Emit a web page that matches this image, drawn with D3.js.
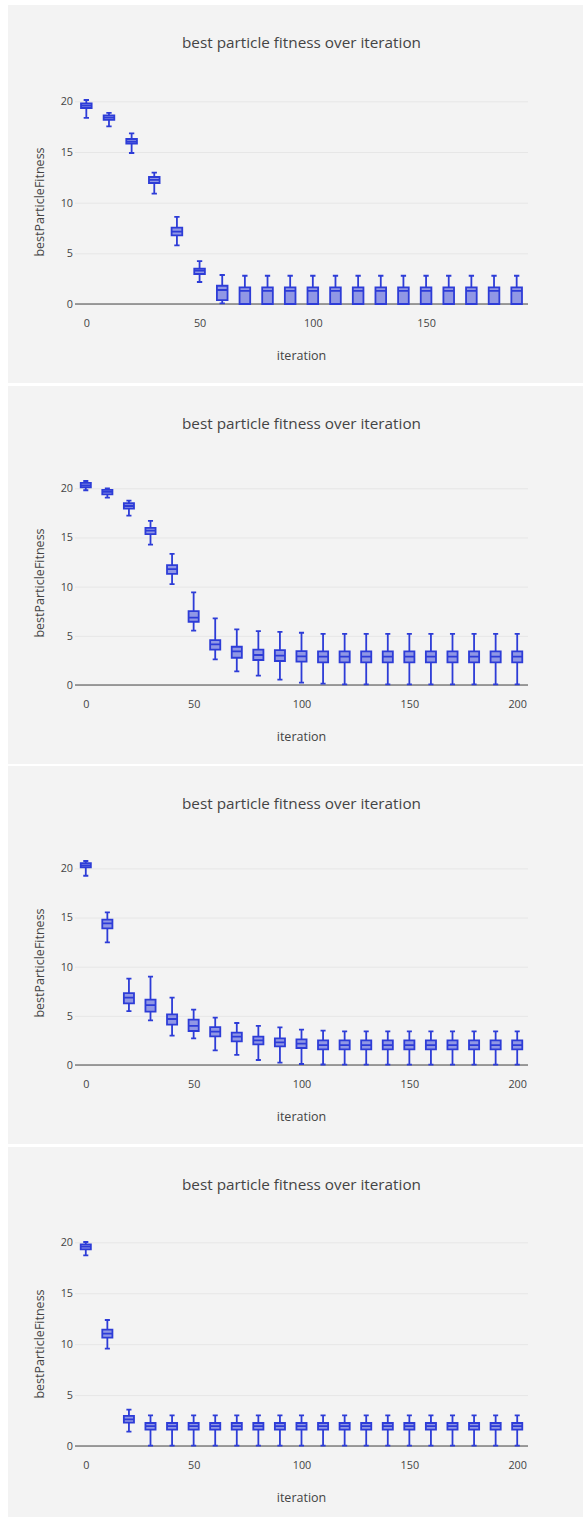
<!DOCTYPE html>
<html>
<head>
<meta charset="utf-8">
<script src="https://cdn.jsdelivr.net/npm/d3@7"></script>
<style>
  html, body { margin: 0; padding: 0; background: #ffffff; }
  svg { display: block; }
  text { font-family: "Open Sans", verdana, arial, sans-serif; fill: #444; }
</style>
</head>
<body>
<svg id="chart" width="583" height="1517"></svg>
<script>
// ---- labels ----
const chartTitle = "best particle fitness over iteration";
const xAxisTitle = "iteration";
const yAxisTitle = "bestParticleFitness";
const xTickValues = [0, 50, 100, 150, 200];
const yTickValues = [0, 5, 10, 15, 20];

// ---- run 1 (iterations 0..190) ----
const run1Iter = [0, 10, 20, 30, 40, 50, 60, 70, 80, 90, 100, 110, 120, 130, 140, 150, 160, 170, 180, 190];
const run1Hi  = [20.13, 18.85, 16.84, 12.96, 8.59, 4.24, 2.86, 2.79, 2.79, 2.79, 2.79, 2.79, 2.79, 2.79, 2.79, 2.79, 2.79, 2.79, 2.79, 2.79];
const run1Q3  = [19.80, 18.62, 16.28, 12.53, 7.53, 3.49, 1.80, 1.64, 1.64, 1.64, 1.64, 1.64, 1.64, 1.64, 1.64, 1.64, 1.64, 1.64, 1.64, 1.64];
const run1Med = [19.57, 18.39, 16.02, 12.24, 7.14, 3.29, 1.38, 1.30, 1.30, 1.30, 1.30, 1.30, 1.30, 1.30, 1.30, 1.30, 1.30, 1.30, 1.30, 1.30];
const run1Q1  = [19.34, 18.16, 15.82, 11.94, 6.78, 2.96, 0.39, 0, 0, 0, 0, 0, 0, 0, 0, 0, 0, 0, 0, 0];
const run1Lo  = [18.36, 17.53, 14.90, 10.89, 5.79, 2.17, 0.07, 0, 0, 0, 0, 0, 0, 0, 0, 0, 0, 0, 0, 0];

// ---- run 2 (iterations 0..200) ----
const run2Iter = [0, 10, 20, 30, 40, 50, 60, 70, 80, 90, 100, 110, 120, 130, 140, 150, 160, 170, 180, 190, 200];
const run2Hi  = [20.74, 20.00, 18.75, 16.68, 13.33, 9.41, 6.77, 5.65, 5.48, 5.41, 5.31, 5.19, 5.19, 5.19, 5.19, 5.19, 5.19, 5.19, 5.19, 5.19, 5.19];
const run2Q3  = [20.54, 19.83, 18.48, 15.97, 12.18, 7.51, 4.57, 3.89, 3.59, 3.55, 3.45, 3.42, 3.42, 3.42, 3.42, 3.42, 3.42, 3.42, 3.42, 3.42, 3.42];
const run2Med = [20.30, 19.63, 18.20, 15.70, 11.78, 6.84, 4.13, 3.42, 3.05, 2.98, 2.91, 2.88, 2.88, 2.88, 2.88, 2.88, 2.88, 2.88, 2.88, 2.88, 2.88];
const run2Q1  = [20.10, 19.39, 17.94, 15.33, 11.30, 6.43, 3.59, 2.77, 2.54, 2.44, 2.37, 2.31, 2.31, 2.31, 2.31, 2.31, 2.31, 2.31, 2.31, 2.31, 2.31];
const run2Lo  = [19.80, 19.05, 17.22, 14.28, 10.25, 5.52, 2.61, 1.39, 0.95, 0.54, 0.24, 0.14, 0.07, 0.07, 0.07, 0.07, 0.07, 0.07, 0.07, 0.07, 0.07];

// ---- run 3 (iterations 0..200) ----
const run3Iter = [0, 10, 20, 30, 40, 50, 60, 70, 80, 90, 100, 110, 120, 130, 140, 150, 160, 170, 180, 190, 200];
const run3Hi  = [20.75, 15.53, 8.78, 8.98, 6.85, 5.63, 4.81, 4.27, 3.97, 3.83, 3.59, 3.49, 3.42, 3.42, 3.42, 3.42, 3.42, 3.42, 3.42, 3.42, 3.42];
const run3Q3  = [20.54, 14.78, 7.32, 6.64, 5.15, 4.61, 3.86, 3.29, 2.88, 2.71, 2.61, 2.51, 2.51, 2.51, 2.51, 2.51, 2.51, 2.51, 2.51, 2.51, 2.51];
const run3Med = [20.30, 14.41, 6.85, 6.10, 4.68, 3.97, 3.39, 2.88, 2.51, 2.31, 2.17, 2.03, 2.03, 2.03, 2.03, 2.03, 2.03, 2.03, 2.03, 2.03, 2.03];
const run3Q1  = [20.10, 13.90, 6.27, 5.42, 4.10, 3.46, 2.92, 2.41, 2.10, 1.90, 1.73, 1.59, 1.59, 1.59, 1.59, 1.59, 1.59, 1.59, 1.59, 1.59, 1.59];
const run3Lo  = [19.25, 12.47, 5.49, 4.54, 2.98, 2.71, 1.49, 1.02, 0.51, 0.24, 0.10, 0.05, 0.03, 0.03, 0.03, 0.03, 0.03, 0.03, 0.03, 0.03, 0.03];

// ---- run 4 (iterations 0..200) ----
const run4Iter = [0, 10, 20, 30, 40, 50, 60, 70, 80, 90, 100, 110, 120, 130, 140, 150, 160, 170, 180, 190, 200];
const run4Hi  = [20.03, 12.37, 3.57, 3.01, 3.01, 3.01, 3.01, 3.01, 3.01, 3.01, 3.01, 3.01, 3.01, 3.01, 3.01, 3.01, 3.01, 3.01, 3.01, 3.01, 3.01];
const run4Q3  = [19.80, 11.42, 2.95, 2.26, 2.26, 2.26, 2.26, 2.26, 2.26, 2.26, 2.26, 2.26, 2.26, 2.26, 2.26, 2.26, 2.26, 2.26, 2.26, 2.26, 2.26];
const run4Med = [19.57, 11.03, 2.62, 1.96, 1.96, 1.96, 1.96, 1.96, 1.96, 1.96, 1.96, 1.96, 1.96, 1.96, 1.96, 1.96, 1.96, 1.96, 1.96, 1.96, 1.96];
const run4Q1  = [19.31, 10.64, 2.29, 1.60, 1.60, 1.60, 1.60, 1.60, 1.60, 1.60, 1.60, 1.60, 1.60, 1.60, 1.60, 1.60, 1.60, 1.60, 1.60, 1.60, 1.60];
const run4Lo  = [18.72, 9.56, 1.41, 0.03, 0.03, 0.03, 0.03, 0.03, 0.03, 0.03, 0.03, 0.03, 0.03, 0.03, 0.03, 0.03, 0.03, 0.03, 0.03, 0.03, 0.03];

const runs = [
  { iter: run1Iter, hi: run1Hi, q3: run1Q3, med: run1Med, q1: run1Q1, lo: run1Lo },
  { iter: run2Iter, hi: run2Hi, q3: run2Q3, med: run2Med, q1: run2Q1, lo: run2Lo },
  { iter: run3Iter, hi: run3Hi, q3: run3Q3, med: run3Med, q1: run3Q1, lo: run3Lo },
  { iter: run4Iter, hi: run4Hi, q3: run4Q3, med: run4Med, q1: run4Q1, lo: run4Lo }
];

// ---- layout ----
const panelLeft = 8, panelWidth = 575, panelHeight = 378;
const panelTops = [5, 386, 766, 1147];
const plot = { left: 67, right: 520, top: 95, bottom: 299 };
const boxWidthUnits = 4.7;         // box width in iteration units
const lineColor = "rgb(45,60,215)";
const fillColor = "rgba(45,60,215,0.5)";
const panelBg = "#f3f3f3";
const gridColor = "#e6e6e6";

const svg = d3.select("#chart");

runs.forEach((run, i) => {
  const g = svg.append("g")
    .attr("transform", `translate(${panelLeft},${panelTops[i]})`);

  g.append("rect")
    .attr("width", panelWidth)
    .attr("height", panelHeight)
    .attr("fill", panelBg);

  const x = d3.scaleLinear()
    .domain([d3.min(run.iter) - 5, d3.max(run.iter) + 5])
    .range([plot.left, plot.right]);
  const y = d3.scaleLinear()
    .domain([0, d3.max(run.hi)])
    .range([plot.bottom, plot.top]);

  // horizontal grid + y tick labels
  const yAxis = d3.axisLeft(y)
    .tickValues(yTickValues)
    .tickSize(-(plot.right - plot.left))
    .tickPadding(2);
  const yg = g.append("g")
    .attr("transform", `translate(${plot.left},0)`)
    .call(yAxis);
  yg.select(".domain").remove();
  yg.selectAll(".tick line").attr("stroke", gridColor).attr("stroke-width", 1);
  yg.selectAll(".tick text")
    .style("font-size", "10.8px")
    .attr("fill", "#444");

  // x tick labels
  const xAxis = d3.axisBottom(x)
    .tickValues(xTickValues.filter(v => v >= x.domain()[0] && v <= x.domain()[1]))
    .tickSize(0)
    .tickPadding(15.5);
  const xg = g.append("g")
    .attr("transform", `translate(0,${plot.bottom})`)
    .call(xAxis);
  xg.select(".domain").remove();
  xg.selectAll(".tick text")
    .style("font-size", "10.8px")
    .attr("fill", "#444");

  // zero line
  g.append("line")
    .attr("x1", plot.left).attr("x2", plot.right)
    .attr("y1", y(0)).attr("y2", y(0))
    .attr("stroke", "#444").attr("stroke-width", 1);

  // boxes
  const hw = (x(boxWidthUnits) - x(0)) / 2;
  const cw = hw / 2;
  const boxes = run.iter.map((it, k) => ({
    it, hi: run.hi[k], q3: run.q3[k], med: run.med[k], q1: run.q1[k], lo: run.lo[k]
  }));
  g.append("g").selectAll("path")
    .data(boxes)
    .join("path")
    .attr("d", d => {
      const cx = x(d.it);
      const yHi = y(d.hi), yQ3 = y(d.q3), yMed = y(d.med), yQ1 = y(d.q1), yLo = y(d.lo);
      return `M${cx - hw},${yQ3}H${cx + hw}V${yQ1}H${cx - hw}Z` +
             `M${cx - hw},${yMed}H${cx + hw}` +
             `M${cx},${yQ3}V${yHi}M${cx},${yQ1}V${yLo}` +
             `M${cx - cw},${yHi}H${cx + cw}M${cx - cw},${yLo}H${cx + cw}`;
    })
    .attr("fill", fillColor)
    .attr("stroke", lineColor)
    .attr("stroke-width", 1.8);

  // titles
  g.append("text")
    .attr("x", (plot.left + plot.right) / 2)
    .attr("y", 42.8)
    .attr("text-anchor", "middle")
    .style("font-size", "15.3px")
    .text(chartTitle);

  g.append("text")
    .attr("x", (plot.left + plot.right) / 2)
    .attr("y", 355.2)
    .attr("text-anchor", "middle")
    .style("font-size", "12.5px")
    .text(xAxisTitle);

  g.append("text")
    .attr("transform", `translate(36,${(plot.top + plot.bottom) / 2}) rotate(-90)`)
    .attr("text-anchor", "middle")
    .style("font-size", "12.5px")
    .text(yAxisTitle);
});
</script>
</body>
</html>
